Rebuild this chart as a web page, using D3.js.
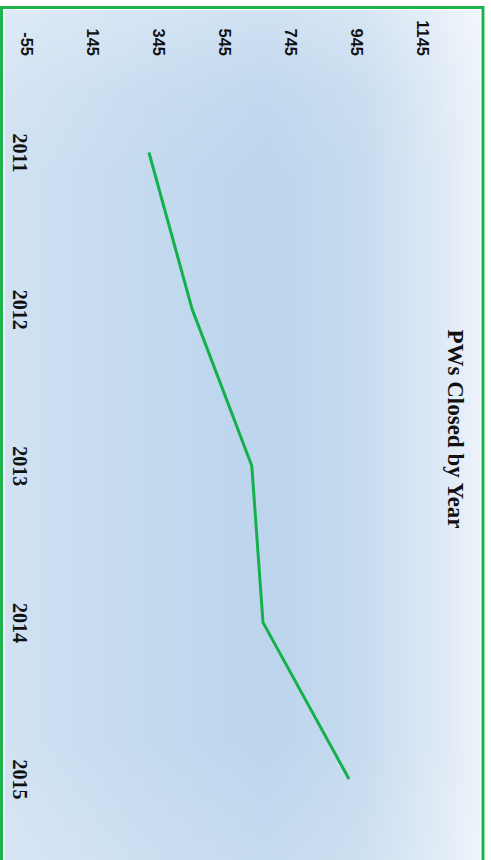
<!DOCTYPE html>
<html>
<head>
<meta charset="utf-8">
<script src="https://cdn.jsdelivr.net/npm/d3@7"></script>
<style>
  html, body { margin: 0; padding: 0; background: #fff; }
  svg { display: block; }
</style>
</head>
<body>
<script>
// ---- data ----
const years = ["2011", "2012", "2013", "2014", "2015"];
const closed = [315, 446, 627, 661, 922];
const valueTicks = [-55, 145, 345, 545, 745, 945, 1145];
const title = "PWs Closed by Year";

const W = 491, H = 860;
const svg = d3.select("body").append("svg").attr("width", W).attr("height", H);

const defs = svg.append("defs");
const g1 = defs.append("linearGradient").attr("id", "bg").attr("x1", "0").attr("x2", "1").attr("y1", "0").attr("y2", "0");
[[0, "#d1e2f3"], [0.3, "#c4daef"], [0.55, "#bcd5ed"], [0.75, "#c6dbef"], [0.9, "#dce8f5"], [1, "#eef3fa"]]
  .forEach(([o, c]) => g1.append("stop").attr("offset", o).attr("stop-color", c));
const g2 = defs.append("linearGradient").attr("id", "fade").attr("x1", "0").attr("x2", "0").attr("y1", "0").attr("y2", "1");
[[0, 0.3], [0.1, 0.08], [0.2, 0], [0.85, 0], [1, 0.15]]
  .forEach(([o, a]) => g2.append("stop").attr("offset", o).attr("stop-color", "#ffffff").attr("stop-opacity", a));

svg.append("rect").attr("x", 0).attr("y", 0).attr("width", W).attr("height", H).attr("fill", "#fff");
svg.append("rect").attr("x", 2).attr("y", 7).attr("width", 481).attr("height", H).attr("fill", "url(#bg)");
svg.append("rect").attr("x", 2).attr("y", 7).attr("width", 481).attr("height", H).attr("fill", "url(#fade)");

// chart drawn unrotated, then rotated 90deg clockwise
const g = svg.append("g").attr("transform", `translate(${W},0) rotate(90)`);

const x = d3.scalePoint().domain(years).range([152.5, 779]);
const y = d3.scaleLinear().domain([-55, 1145]).range([464, 68.5]);

const yAxis = g.append("g").attr("transform", "translate(56,0)")
  .call(d3.axisLeft(y).tickValues(valueTicks).tickSize(0).tickPadding(0).tickFormat(d => String(d)));
yAxis.select(".domain").remove();
yAxis.selectAll("text")
  .attr("font-family", "'Liberation Sans', Arial, sans-serif")
  .attr("font-weight", "bold").attr("font-size", 16.5).attr("fill", "#111");

const xAxis = g.append("g").attr("transform", "translate(0,464)")
  .call(d3.axisBottom(x).tickSize(0).tickPadding(0));
xAxis.select(".domain").remove();
xAxis.selectAll("text")
  .attr("font-family", "'Liberation Serif', 'Times New Roman', serif")
  .attr("font-weight", "bold").attr("font-size", 20).attr("fill", "#111");

g.append("text")
  .attr("x", 429).attr("y", 43)
  .attr("text-anchor", "middle")
  .attr("font-family", "'Liberation Serif', 'Times New Roman', serif")
  .attr("font-weight", "bold").attr("font-size", 23).attr("fill", "#111")
  .text(title);

const line = d3.line().x((d, i) => x(years[i])).y(d => y(d));
g.append("path").datum(closed)
  .attr("d", line)
  .attr("fill", "none")
  .attr("stroke", "#14b14b")
  .attr("stroke-width", 3)
  .attr("stroke-linejoin", "round");

// border
svg.append("rect").attr("x", 4).attr("y", 9.5).attr("width", 477).attr("height", H)
  .attr("fill", "none").attr("stroke", "#ffffff").attr("stroke-width", 1.5).attr("opacity", 0.9);
svg.append("rect").attr("x", 1.5).attr("y", 7.5).attr("width", 481.5).attr("height", H + 10)
  .attr("fill", "none").attr("stroke", "#1db44e").attr("stroke-width", 3);
</script>
</body>
</html>
